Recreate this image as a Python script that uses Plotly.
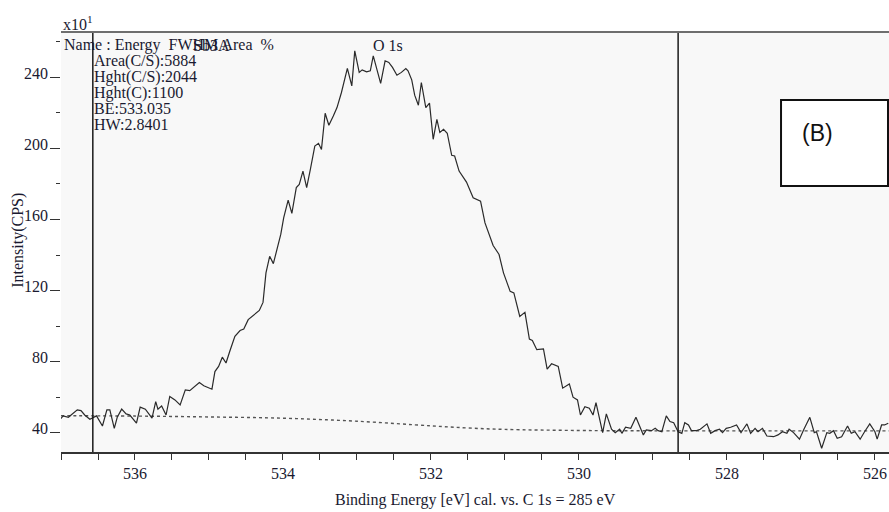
import plotly.graph_objects as go

# Spectrum (binding energy in eV, intensity in CPS x10)
energy = [537.01, 536.97, 536.90, 536.83, 536.78, 536.73, 536.68, 536.61, 536.56, 536.52,
          536.44, 536.38, 536.34, 536.28, 536.24, 536.18, 536.12, 536.07, 535.98, 535.93,
          535.86, 535.77, 535.72, 535.69, 535.64, 535.58, 535.53, 535.46, 535.39, 535.32,
          535.26, 535.13, 535.07, 534.96, 534.92, 534.87, 534.82, 534.77, 534.72, 534.65,
          534.58, 534.53, 534.47, 534.39, 534.32, 534.27, 534.23, 534.18, 534.13, 534.03,
          533.99, 533.93, 533.88, 533.82, 533.78, 533.73, 533.68, 533.63, 533.57, 533.52,
          533.48, 533.43, 533.38, 533.32, 533.27, 533.21, 533.13, 533.07, 533.03, 532.97,
          532.93, 532.87, 532.82, 532.78, 532.73, 532.68, 532.62, 532.57, 532.52, 532.46,
          532.40, 532.34, 532.31, 532.26, 532.22, 532.17, 532.13, 532.07, 532.02, 531.97,
          531.92, 531.88, 531.83, 531.78, 531.72, 531.68, 531.62, 531.52, 531.43, 531.33,
          531.27, 531.16, 531.08, 531.02, 530.93, 530.88, 530.80, 530.73, 530.67, 530.63,
          530.57, 530.48, 530.43, 530.37, 530.28, 530.22, 530.13, 530.08, 530.02, 529.98,
          529.92, 529.86, 529.81, 529.77, 529.68, 529.63, 529.56, 529.51, 529.45, 529.42,
          529.37, 529.30, 529.23, 529.13, 529.09, 529.02, 528.97, 528.93, 528.88, 528.82,
          528.77, 528.72, 528.66, 528.61, 528.57, 528.52, 528.48, 528.41, 528.36, 528.27,
          528.22, 528.16, 528.10, 528.06, 528.01, 527.95, 527.87, 527.81, 527.78, 527.73,
          527.68, 527.62, 527.58, 527.52, 527.46, 527.37, 527.31, 527.25, 527.19, 527.16,
          527.10, 527.02, 526.96, 526.88, 526.82, 526.79, 526.72, 526.65, 526.61, 526.56,
          526.51, 526.45, 526.37, 526.32, 526.27, 526.20, 526.14, 526.07, 526.00, 525.97,
          525.91, 525.87, 525.82]
intensity = [47.7, 49.6, 48.8, 51.1, 53.0, 52.6, 50.1, 47.7, 48.8, 49.6,
             43.9, 53.0, 53.0, 42.6, 48.8, 53.4, 50.7, 50.1, 45.5, 54.5,
             53.4, 48.3, 57.6, 53.4, 55.2, 50.1, 60.5, 58.6, 55.8, 64.2,
             63.8, 68.3, 66.5, 64.6, 74.5, 77.4, 82.6, 79.3, 85.8, 94.3,
             97.6, 98.4, 103.7, 106.5, 108.9, 113.4, 130.0, 139.3, 135.2, 151.6,
             161.0, 170.9, 163.4, 177.9, 179.7, 187.2, 177.9, 188.2, 201.3, 202.8,
             199.4, 219.7, 213.0, 218.2, 222.9, 231.4, 244.9, 235.1, 254.8, 242.7,
             244.1, 243.0, 243.6, 252.0, 243.6, 236.5, 249.2, 248.3, 245.5, 241.1,
             242.7, 244.9, 243.6, 238.5, 229.9, 224.2, 237.0, 222.9, 225.4, 205.1,
             216.3, 208.9, 210.7, 208.5, 196.1, 195.7, 187.2, 181.0, 172.2, 170.3,
             158.1, 145.4, 140.3, 130.0, 119.6, 118.7, 105.5, 107.8, 92.8, 92.0,
             86.8, 87.2, 75.9, 78.9, 77.4, 65.2, 67.6, 60.1, 58.6, 50.1,
             54.8, 53.9, 50.1, 57.1, 40.2, 50.7, 42.1, 40.2, 42.1, 39.8,
             43.2, 42.6, 48.8, 38.9, 41.7, 41.3, 42.6, 41.3, 40.7, 49.6,
             46.4, 45.8, 40.7, 39.8, 45.8, 44.5, 41.3, 41.3, 42.1, 45.1,
             39.8, 41.3, 42.1, 40.2, 42.6, 43.2, 44.5, 40.2, 42.1, 45.1,
             39.8, 42.6, 40.7, 42.6, 38.3, 37.9, 38.9, 40.7, 39.8, 42.1,
             40.2, 36.5, 42.1, 48.8, 40.2, 40.7, 31.4, 40.2, 39.8, 41.3,
             37.0, 37.9, 43.9, 39.8, 40.7, 36.5, 40.7, 45.1, 40.7, 36.5,
             44.5, 44.5, 45.5]

# Shirley background
bg_energy = [537.0, 536.0, 535.0, 534.0, 533.0, 532.0, 531.5, 531.0, 530.0, 529.0, 525.8]
bg_intensity = [49.7, 49.5, 49.0, 48.3, 46.6, 44.0, 42.8, 42.0, 41.4, 41.2, 41.2]

# Region cursors (eV)
cursors = [536.57, 528.66]

x_ticks = [536, 534, 532, 530, 528, 526]
y_ticks = [40, 80, 120, 160, 200, 240]

info_lines = ["Area(C/S):5884", "Hght(C/S):2044", "Hght(C):1100", "BE:533.035", "HW:2.8401"]
peak_label = "O 1s"
peak_label_energy = 532.58

SERIF = "Liberation Serif"
TXT = "#1a1a30"
FS = 16

fig = go.Figure()
fig.add_trace(go.Scatter(x=bg_energy, y=bg_intensity, mode="lines",
                         line=dict(color="#555555", width=1.4, dash="dot", shape="spline"),
                         hoverinfo="skip", showlegend=False))
fig.add_trace(go.Scatter(x=energy, y=intensity, mode="lines",
                         line=dict(color="#2a2a2a", width=1.2),
                         showlegend=False))

for c in cursors:
    fig.add_shape(type="line", xref="x", yref="paper", x0=c, x1=c, y0=0, y1=1,
                  line=dict(color="#1a1a1a", width=1.5))

# top border
fig.add_shape(type="line", xref="paper", yref="paper", x0=0, x1=1, y0=1, y1=1,
              line=dict(color="#6e6e6e", width=2))

ann = []
for v in y_ticks:
    ann.append(dict(xref="paper", yref="y", x=0, y=v, xanchor="right", yanchor="middle",
                    xshift=-11, yshift=4, text=str(v), showarrow=False,
                    font=dict(family=SERIF, size=FS, color=TXT)))
ann.append(dict(xref="paper", yref="paper", x=0.0, y=1.022, xanchor="left", yanchor="middle",
                text="x10<sup>1</sup>", showarrow=False, font=dict(family=SERIF, size=FS, color=TXT)))
ann.append(dict(xref="paper", yref="paper", x=0.001, y=0.969, xanchor="left", yanchor="middle",
                text="Name : Energy  FWHM Area  %", showarrow=False,
                font=dict(family=SERIF, size=FS, color=TXT)))
ann.append(dict(xref="paper", yref="paper", x=(191 - 61) / 828, y=0.969, xanchor="left", yanchor="middle",
                text="Sb3A", showarrow=False, font=dict(family=SERIF, size=FS, color=TXT)))
for i, t in enumerate(info_lines):
    ann.append(dict(xref="paper", yref="paper", x=0.0375, y=0.9314 - i * 0.0381,
                    xanchor="left", yanchor="middle", text=t, showarrow=False,
                    font=dict(family=SERIF, size=FS, color=TXT)))
ann.append(dict(xref="x", yref="paper", x=peak_label_energy, y=0.969, xanchor="center", yanchor="middle",
                text=peak_label, showarrow=False, font=dict(family=SERIF, size=FS, color=TXT)))
ann.append(dict(xref="paper", yref="paper", x=0.5, y=-0.1143, xanchor="center", yanchor="middle",
                text="Binding Energy [eV] cal. vs. C 1s = 285 eV", showarrow=False,
                font=dict(family=SERIF, size=FS, color=TXT)))
ann.append(dict(xref="paper", yref="paper", x=-0.052, y=0.505, xanchor="center", yanchor="middle",
                text="Intensity(CPS)", textangle=-90, showarrow=False,
                font=dict(family=SERIF, size=FS, color=TXT)))
ann.append(dict(xref="paper", yref="paper", x=0.914, y=0.7595, xanchor="center", yanchor="middle",
                text="(B)", showarrow=False, font=dict(family="Liberation Sans", size=23, color="#111111")))

fig.add_shape(type="rect", xref="paper", yref="paper", x0=0.8696, x1=0.9988, y0=0.6333, y1=0.8381,
              fillcolor="white", line=dict(color="#111111", width=2), layer="above")

fig.update_layout(
    width=889, height=512,
    margin=dict(l=61, r=0, t=32, b=60),
    paper_bgcolor="white", plot_bgcolor="#f8f8f8",
    annotations=ann,
    xaxis=dict(range=[537.0, 525.81], tickmode="array", tickvals=x_ticks,
               ticks="outside", ticklen=6, tickwidth=1.2, tickcolor="#333333",
               showline=True, linecolor="#333333", linewidth=1.5, showgrid=False, zeroline=False,
               minor=dict(tickmode="linear", tick0=526, dtick=0.5, ticks="outside", ticklen=6,
                          tickwidth=1.2, tickcolor="#333333", showgrid=False),
               tickfont=dict(family=SERIF, size=FS, color=TXT)),
    yaxis=dict(range=[29.3, 265.4], tickmode="array", tickvals=y_ticks, showticklabels=False,
               ticks="outside", ticklen=10, tickwidth=1.2, tickcolor="#333333",
               showline=False, showgrid=False, zeroline=False,
               minor=dict(tickmode="linear", tick0=20, dtick=40, ticks="outside", ticklen=4,
                          tickwidth=1.2, tickcolor="#333333", showgrid=False)),
)

fig.write_html("out.html", config={"displayModeBar": False},
               post_script="document.body.style.margin='0';document.body.style.overflow='hidden';"
                           "document.documentElement.style.overflow='hidden';")
